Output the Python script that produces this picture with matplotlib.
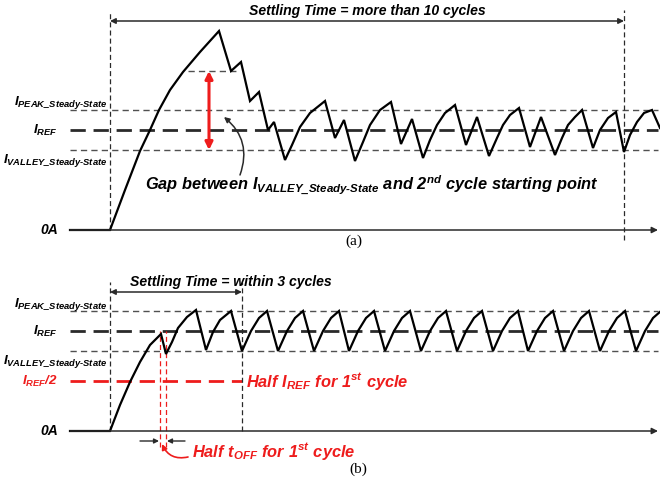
import matplotlib.pyplot as plt

# mathtext in bold italic Arial-like face, as in the original drawing
plt.rcParams['mathtext.fontset'] = 'custom'
plt.rcParams['mathtext.rm'] = 'Liberation Sans:italic:bold'
plt.rcParams['mathtext.it'] = 'Liberation Sans:italic:bold'
plt.rcParams['mathtext.bf'] = 'Liberation Sans:italic:bold'

# --- current levels (normalised to I_REF) ---
I_PEAK = 1.2
I_REF = 1.0
I_VALLEY = 0.8
I_HALF = 0.5

# --- (a) start-up without control, time in arbitrary units ---
t_a = [-4.0, 0.0, 1.5, 3.0, 4.0, 4.9, 6.0, 7.3, 9.0, 10.9,
       12.1, 13.1, 14.0, 14.9, 15.8, 16.4, 17.5,
       18.2, 19.0, 20.0, 21.5,
       22.5, 23.4, 24.5,
       25.3, 26.0, 27.0, 28.1,
       29.1, 30.2, 31.3,
       32.0, 32.7, 33.5, 34.5,
       35.6, 36.7, 37.9,
       38.7, 39.3, 40.0, 40.9,
       42.0, 43.1, 44.5,
       45.2, 45.8, 46.5, 47.2,
       48.3, 49.0, 49.8, 50.6,
       51.4, 52.0, 52.7, 53.4, 54.2,
       55.0]
i_a = [0.0, 0.0, 0.40, 0.79, 1.0, 1.2, 1.4, 1.58, 1.78, 1.99,
       1.59, 1.68, 1.29, 1.38, 1.0, 1.08, 0.70,
       0.85, 1.03, 1.17, 1.29,
       0.92, 1.10, 0.69,
       0.88, 1.05, 1.20, 1.28,
       0.86, 1.11, 0.72,
       0.90, 1.05, 1.17, 1.25,
       0.85, 1.13, 0.74,
       0.92, 1.05, 1.15, 1.22,
       0.83, 1.13, 0.75,
       0.92, 1.05, 1.13, 1.20,
       0.82, 1.0, 1.12, 1.18,
       0.78, 0.95, 1.08, 1.17, 1.20,
       1.02]

# --- (b) start-up with half I_REF / half t_OFF first cycle ---
t_b = [-4.0, 0.0, 1.0, 2.0, 3.0, 4.0, 5.1,
       5.6, 6.2, 6.8, 7.7, 8.6,
       9.6, 10.3, 11.0, 12.1,
       13.2, 14.1, 14.9, 15.7,
       16.8, 17.7, 18.5, 19.3,
       20.4, 21.3, 22.1, 22.9,
       23.9, 24.8, 25.6, 26.4,
       27.5, 28.4, 29.2, 30.0,
       31.1, 32.0, 32.8, 33.6,
       34.7, 35.6, 36.4, 37.2,
       38.3, 39.2, 40.0, 40.8,
       41.8, 42.7, 43.5, 44.3,
       45.4, 46.3, 47.1, 47.9,
       49.0, 49.9, 50.7, 51.5,
       52.6, 53.5, 54.3, 55.1]
i_b = [0.0, 0.0, 0.26, 0.49, 0.69, 0.86, 0.97,
       0.77, 0.89, 1.03, 1.14, 1.21,
       0.81, 0.99, 1.11, 1.20,
       0.80, 1.00, 1.13, 1.20,
       0.80, 1.00, 1.13, 1.20,
       0.80, 1.00, 1.13, 1.20,
       0.80, 1.00, 1.13, 1.20,
       0.80, 1.00, 1.13, 1.20,
       0.80, 1.00, 1.13, 1.20,
       0.80, 1.00, 1.13, 1.20,
       0.80, 1.00, 1.13, 1.20,
       0.80, 1.00, 1.13, 1.20,
       0.80, 1.00, 1.13, 1.20,
       0.80, 1.00, 1.13, 1.20,
       0.80, 1.00, 1.13, 1.20]

# time markers
t_start = 0.0
t_settle_a = 51.4
t_settle_b = 13.2
i_2nd_a = 1.59        # 2nd cycle starting point in (a)
t_off_b = [5.0, 5.6]  # half t_OFF window in (b)

HY = '\u2010'  # real hyphen, mathtext turns '-' into a spaced minus
level_labels = [r'$I_{PEAK\_Steady' + HY + r'State}$', r'$I_{REF}$',
                r'$I_{VALLEY\_Steady' + HY + r'State}$', '0A']

RED = '#ee1c1c'
GRAY = '#505050'
DARK = '#2a2a2a'
X_LEFT, X_RIGHT = -4.0, 54.8
BI = dict(family='Liberation Sans', weight='bold', style='italic')


def niveles(ax):
    """Dashed steady-state levels, baseline arrow and level labels."""
    ax.plot([X_LEFT, X_RIGHT], [I_PEAK, I_PEAK], color=GRAY, lw=1.0, ls=(0, (4.5, 3)))
    ax.plot([X_LEFT, X_RIGHT], [I_VALLEY, I_VALLEY], color=GRAY, lw=1.0, ls=(0, (4.5, 3)))
    ax.plot([X_LEFT, X_RIGHT], [I_REF, I_REF], color=DARK, lw=2.0, ls=(0, (5.5, 2.8)))
    ax.annotate('', xy=(X_RIGHT, 0), xytext=(X_LEFT, 0), annotation_clip=False,
                arrowprops=dict(arrowstyle='-|>', color=DARK, lw=1.1, mutation_scale=9,
                                shrinkA=0, shrinkB=0))
    fs = 9.6
    ax.text(-0.3, I_PEAK + 0.07, level_labels[0], ha='right', va='center', fontsize=fs)
    ax.text(-5.2, I_REF, level_labels[1], ha='right', va='center', fontsize=fs)
    ax.text(-0.3, I_VALLEY - 0.11, level_labels[2], ha='right', va='center', fontsize=fs)
    ax.text(-5.2, 0.0, level_labels[3], ha='right', va='center', fontsize=10, **BI)


def vline(ax, t, y0, y1, color=DARK, lw=0.9):
    ax.plot([t, t], [y0, y1], color=color, lw=lw, ls=(0, (4, 2.5)))


fig = plt.figure(figsize=(6.6, 4.91), dpi=100)

# ---------------- panel (a) ----------------
ax_a = fig.add_axes([0, 1 - 245 / 491, 1, 245 / 491])
ax_a.set_xlim(-11, 55)
ax_a.set_ylim(-0.15, 2.30)
ax_a.axis('off')

niveles(ax_a)
vline(ax_a, t_start, 0, 2.19)
vline(ax_a, t_settle_a, -0.10, 2.20)
ax_a.plot([7.8, 12.6], [i_2nd_a, i_2nd_a], color=GRAY, lw=1.0, ls=(0, (4.5, 3)))
ax_a.plot(t_a, i_a, color='black', lw=1.6, solid_joinstyle='miter')

ax_a.annotate('', xy=(t_start, 2.09), xytext=(t_settle_a, 2.09),
              arrowprops=dict(arrowstyle='<|-|>', color=DARK, lw=1.1, mutation_scale=8,
                              shrinkA=0, shrinkB=0))
ax_a.text(25.7, 2.19, 'Settling Time = more than 10 cycles',
          ha='center', va='center', fontsize=10.1, **BI)

ax_a.annotate('', xy=(9.9, i_2nd_a), xytext=(9.9, I_VALLEY),
              arrowprops=dict(arrowstyle='<|-|>', color=RED, lw=2.2, mutation_scale=11,
                              shrinkA=0, shrinkB=0))
ax_a.annotate('', xy=(11.4, 1.13), xytext=(13.0, 0.55),
              arrowprops=dict(arrowstyle='-|>', color=DARK, lw=1.1, mutation_scale=8,
                              connectionstyle='arc3,rad=0.35', shrinkA=0, shrinkB=0))
ax_a.text(3.5, 0.45,
          r'$Gap\ between\ I_{VALLEY\_Steady' + HY +
          r'State}\ and\ 2^{nd}\ cycle\ starting\ point$',
          ha='left', va='center', fontsize=11.8)
ax_a.text(24.4, -0.11, '(a)', ha='center', va='center', fontsize=11,
          family='Liberation Serif')

# ---------------- panel (b) ----------------
ax_b = fig.add_axes([0, 0, 1, 246 / 491])
ax_b.set_xlim(-11, 55)
ax_b.set_ylim(-0.60, 1.86)
ax_b.axis('off')

niveles(ax_b)
ax_b.plot([X_LEFT, t_settle_b], [I_HALF, I_HALF], color=RED, lw=2.0, ls=(0, (5.5, 2.8)))
ax_b.text(-5.2, I_HALF, r'$I_{REF}/2$', ha='right', va='center', fontsize=9.6, color=RED)
vline(ax_b, t_start, 0, 1.49)
vline(ax_b, t_settle_b, 0, 1.49)
for t in t_off_b:
    vline(ax_b, t, -0.16, I_REF, color=RED, lw=0.9)
ax_b.plot(t_b, i_b, color='black', lw=1.6, solid_joinstyle='miter')

ax_b.annotate('', xy=(t_start, 1.39), xytext=(t_settle_b, 1.39),
              arrowprops=dict(arrowstyle='<|-|>', color=DARK, lw=1.1, mutation_scale=8,
                              shrinkA=0, shrinkB=0))
ax_b.text(12.1, 1.49, 'Settling Time = within 3 cycles',
          ha='center', va='center', fontsize=10.1, **BI)
ax_b.text(13.6, I_HALF, r'$Half\ I_{REF}\ for\ 1^{st}\ cycle$',
          ha='left', va='center', fontsize=11.8, color=RED)

ax_b.annotate('', xy=(t_off_b[0] - 0.1, -0.10), xytext=(3.0, -0.10),
              arrowprops=dict(arrowstyle='-|>', color=DARK, lw=1.0, mutation_scale=7,
                              shrinkA=0, shrinkB=0))
ax_b.annotate('', xy=(t_off_b[1] + 0.1, -0.10), xytext=(7.5, -0.10),
              arrowprops=dict(arrowstyle='-|>', color=DARK, lw=1.0, mutation_scale=7,
                              shrinkA=0, shrinkB=0))
ax_b.annotate('', xy=(5.2, -0.13), xytext=(7.8, -0.26),
              arrowprops=dict(arrowstyle='-|>', color=RED, lw=1.2, mutation_scale=8,
                              connectionstyle='arc3,rad=-0.4', shrinkA=0, shrinkB=0))
ax_b.text(8.2, -0.21, r'$Half\ t_{OFF}\ for\ 1^{st}\ cycle$',
          ha='left', va='center', fontsize=11.8, color=RED)
ax_b.text(24.8, -0.38, '(b)', ha='center', va='center', fontsize=11,
          family='Liberation Serif')

fig.savefig('out.png', dpi=100)
